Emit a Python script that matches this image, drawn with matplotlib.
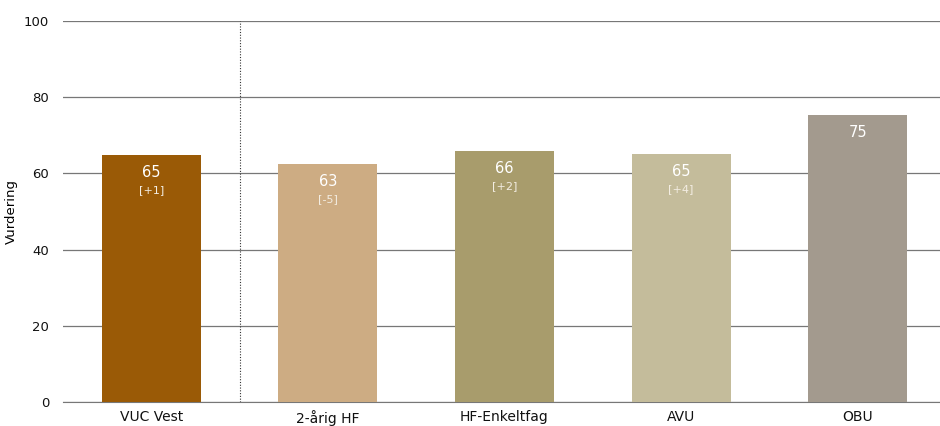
import numpy as np
import matplotlib.pyplot as plt

categories = ['VUC Vest', '2-årig HF', 'HF-Enkeltfag', 'AVU', 'OBU']
values = [64.8, 62.5, 65.9, 65.1, 75.3]
labels = ['65', '63', '66', '65', '75']
changes = ['[+1]', '[-5]', '[+2]', '[+4]', '']
colors = ['#9A5A06', '#CDAC83', '#A89C6C', '#C4BC9B', '#A39A8E']

plt.rcParams['font.family'] = ['DejaVu Sans']

fig = plt.figure(figsize=(9.4, 4.26), dpi=100)
ax = fig.add_axes([0.067, 0.0563, 0.933, 0.8944])

x = np.arange(len(categories))
ax.bar(x, values, width=0.56, color=colors, zorder=3)

for xi, v, lab, ch in zip(x, values, labels, changes):
    ax.annotate(lab, (xi, v), xytext=(0, -12.5), textcoords='offset points',
                ha='center', va='center', color='white', fontsize=10.5, zorder=4)
    if ch:
        ax.annotate(ch, (xi, v), xytext=(0, -25), textcoords='offset points',
                    ha='center', va='center', color='#F3EDE2', fontsize=8, zorder=4)

ax.axvline(0.5, color='#333333', linestyle=(0, (1, 1.5)), linewidth=0.8, zorder=2)

ax.set_ylim(0, 100)
ax.set_xlim(-0.5, 4.466)
ax.set_yticks([0, 20, 40, 60, 80, 100])
ax.set_xticks(x)
ax.set_xticklabels(categories)
ax.yaxis.grid(True, color='#777777', linewidth=0.9, zorder=1)
ax.set_ylabel('Vurdering', fontsize=9.5)
ax.tick_params(axis='both', length=0, labelsize=9.5, colors='#111111')
ax.tick_params(axis='x', labelsize=10, pad=6)
ax.tick_params(axis='y', pad=10)
for s in ['top', 'right', 'left']:
    ax.spines[s].set_visible(False)
ax.spines['bottom'].set_color('#777777')

fig.savefig('out.png', dpi=100)
